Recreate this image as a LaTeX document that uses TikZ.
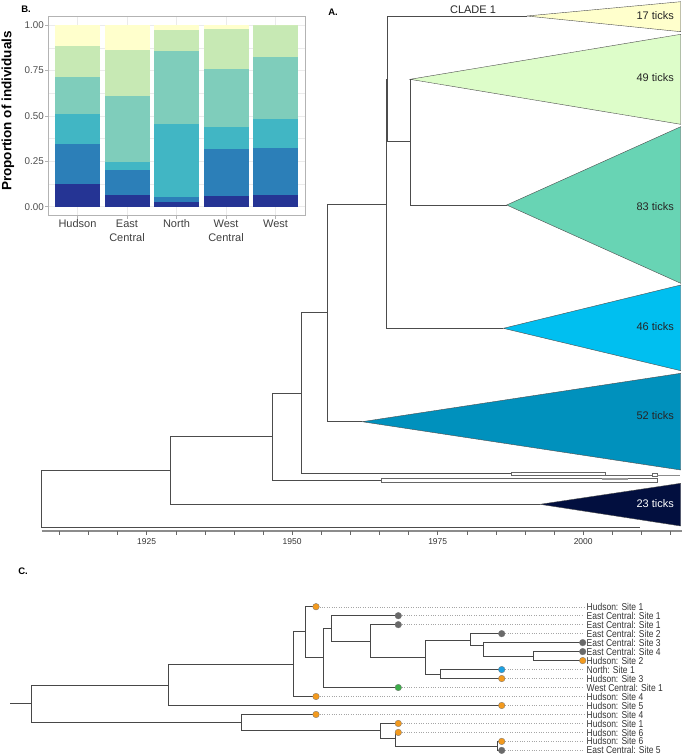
\documentclass[tikz,border=0pt]{standalone}
\usepackage{fontspec}
\setmainfont{Liberation Sans}
\newfontfamily\narrowfont[FakeStretch=0.85]{Liberation Sans}
\newcommand\myfs[1]{\fontsize{#1}{#1}\selectfont}
\definecolor{bA}{HTML}{253494}
\definecolor{bB}{HTML}{2C7FB8}
\definecolor{bC}{HTML}{41B6C4}
\definecolor{bD}{HTML}{7FCDBB}
\definecolor{bE}{HTML}{C7E9B4}
\definecolor{bF}{HTML}{FFFFCC}
\definecolor{tA}{HTML}{FFFFCC}
\definecolor{tB}{HTML}{DDFDC9}
\definecolor{tC}{HTML}{68D4B4}
\definecolor{tD}{HTML}{00BFF0}
\definecolor{tE}{HTML}{0091BD}
\definecolor{tF}{HTML}{020F3F}
\definecolor{cOr}{HTML}{F39A1E}
\definecolor{cGy}{HTML}{6A6A6A}
\definecolor{cGn}{HTML}{3DAE49}
\definecolor{cBl}{HTML}{1DA1E2}
\definecolor{gridc}{HTML}{EBEBEB}
\definecolor{framec}{HTML}{B3B3B3}
\begin{document}
\begin{tikzpicture}[x=1pt,y=-1pt,
  treeA/.style={draw=black!70, line width=0.7pt},
  treeC/.style={draw=black!72, line width=0.8pt},
  tri/.style={draw=black!70, line width=0.4pt},
  clab/.style={font=\myfs{11}, text=black!85, anchor=east, inner sep=0pt},
  panlab/.style={font=\bfseries\myfs{9.5}, inner sep=0pt},
  catlab/.style={font=\myfs{11}, text=black!75, inner sep=0pt},
  ticklab/.style={font=\myfs{9.8}, text=black!70, anchor=east, inner sep=0pt},
  yearlab/.style={font=\myfs{8.5}, text=black!80, inner sep=0pt},
  dot/.style={circle, inner sep=0pt, minimum size=6.6pt, draw=black!55, line width=0.3pt},
  leader/.style={draw=black!35, dotted, line width=0.4pt},
  tiplab/.style={font=\narrowfont\myfs{10}, text=black!80, anchor=west, inner sep=0pt}]
\useasboundingbox (0,0) rectangle (685,755);

% ================= Panel B =================
\node[panlab] (labB) at (26,9.5) {B.};
\begin{scope}[shift={(0,206.7)}, y=181.7pt]
  \foreach \p in {0.125,0.375,0.625,0.875}
    \draw[gridc, line width=0.3pt] (48.3,\p) -- (305,\p);
  \foreach \p in {0,0.25,0.5,0.75,1}
    \draw[gridc, line width=0.6pt] (48.3,\p) -- (305,\p);
  \foreach \cx in {77.5,127,176.5,226,275.5}
    \draw[gridc, line width=0.6pt] (\cx,-0.05) -- (\cx,1.05);
  \foreach \cx/\a/\b/\c/\d/\e in {77.5/0.127/0.345/0.51/0.716/0.884,
      127/0.064/0.202/0.248/0.611/0.862,
      176.5/0.028/0.055/0.455/0.857/0.972,
      226/0.059/0.318/0.439/0.758/0.978,
      275.5/0.065/0.325/0.482/0.826/1.0}{
    \fill[bA] (\cx-22.5,0) rectangle (\cx+22.5,\a);
    \fill[bB] (\cx-22.5,\a) rectangle (\cx+22.5,\b);
    \fill[bC] (\cx-22.5,\b) rectangle (\cx+22.5,\c);
    \fill[bD] (\cx-22.5,\c) rectangle (\cx+22.5,\d);
    \fill[bE] (\cx-22.5,\d) rectangle (\cx+22.5,\e);
    \fill[bF] (\cx-22.5,\e) rectangle (\cx+22.5,1);
  }
  \draw[framec, line width=0.6pt] (48.3,-0.05) rectangle (305,1.05);
  \foreach \p/\t in {0/0.00,0.25/0.25,0.5/0.50,0.75/0.75,1/1.00}{
    \draw[framec, line width=0.5pt] (45.3,\p) -- (48.3,\p);
    \node[ticklab] at (44,\p) {\t};
  }
  \foreach \cx in {77.5,127,176.5,226,275.5}
    \draw[framec, line width=0.5pt] (\cx,-0.05) -- (\cx,-0.067);
\end{scope}
\node[font=\bfseries\myfs{13.5}, rotate=90, inner sep=0pt] (ylab) at (8,111) {Proportion of individuals};
\node[catlab] (c1) at (77.5,223.3) {Hudson};
\node[catlab] (c2a) at (127,223.3) {East};
\node[catlab] (c2b) at (127,237.3) {Central};
\node[catlab] (c3) at (176.5,223.3) {North};
\node[catlab] (c4a) at (226,223.3) {West};
\node[catlab] (c4b) at (226,237.3) {Central};
\node[catlab] (c5) at (275.5,223.3) {West};

% ================= Panel A =================
\node[panlab] (labA) at (333,12) {A.};
% triangles
\filldraw[tri, fill=tA] (526.7,16) -- (680.7,1.7) -- (680.7,31.7) -- cycle;
\filldraw[tri, fill=tB] (410,79.3) -- (680.7,34.3) -- (680.7,124.3) -- cycle;
\filldraw[tri, fill=tC] (506.7,205) -- (680.7,126.7) -- (680.7,283.3) -- cycle;
\filldraw[tri, fill=tD] (503.3,328.3) -- (680.7,285) -- (680.7,370.7) -- cycle;
\filldraw[tri, fill=tE] (362,421.7) -- (680.7,373.3) -- (680.7,470) -- cycle;
\filldraw[tri, fill=tF] (540,504.3) -- (680.7,483.3) -- (680.7,526) -- cycle;
\node[clab] (t17) at (674,15.5) {17 ticks};
\node[clab] (t49) at (674,78) {49 ticks};
\node[clab] (t83) at (674,206.7) {83 ticks};
\node[clab] (t46) at (674,326.7) {46 ticks};
\node[clab] (t52) at (674,416) {52 ticks};
\node[clab, text=white] (t23) at (674,504) {23 ticks};
\node[font=\myfs{11}, text=black!85, inner sep=0pt] (clade) at (473,9.5) {CLADE 1};
% tree
\draw[treeA] (170.7,470) -- (41.7,470) -- (41.7,527.3) -- (640,527.3);
\draw[treeA] (272.7,436.7) -- (170.7,436.7) -- (170.7,504.3) -- (540,504.3);
\draw[treeA] (301.7,393.3) -- (272.7,393.3) -- (272.7,480) -- (380.7,480);
\draw[treeA] (327.3,312.7) -- (301.7,312.7) -- (301.7,473.3) -- (510.7,473.3);
\draw[treeA] (386,204) -- (327.3,204) -- (327.3,421.7) -- (362,421.7);
\draw[treeA] (386,79.3) -- (386,328.3) -- (503.3,328.3);
\draw[treeA] (526.7,16) -- (387.7,16) -- (387.7,141.7) -- (410,141.7);
\draw[treeA] (410,79.3) -- (410,205) -- (506.7,205);
% thin collapsed clades
\draw[black!60, line width=0.4pt] (510.7,471.8) rectangle (605,475.3);
\draw[black!60, line width=0.4pt] (605,475.3) -- (651.7,475.3);
\draw[black!60, line width=0.4pt] (651.7,473.3) rectangle (656.7,476.3);
\draw[black!45, line width=0.4pt] (656.7,475.3) -- (680,475.3);
\draw[black!60, line width=0.4pt] (380.7,478) rectangle (656.7,481.7);
\fill[black!40] (601.7,477.5) rectangle (628.3,479.5);
% axis
\draw[black!45, line width=1.3pt] (41.7,531) -- (682,531);
\foreach \yr in {1910,1915,...,2015}
  \draw[black!60, line width=0.5pt] ({146.7+5.82*(\yr-1925)},531) -- ({146.7+5.82*(\yr-1925)},534.5);
\foreach \yr in {1925,1950,1975,2000}
  \node[yearlab] at ({146.7+5.82*(\yr-1925)},542) {\yr};

% ================= Panel C =================
\node[panlab] (labC) at (23,571.5) {C.};
\draw[treeC] (10,703.3) -- (31.7,703.3);
\draw[treeC] (168,685) -- (31.7,685) -- (31.7,722.3) -- (241,722.3);
\draw[treeC] (293.7,664) -- (168,664) -- (168,705.5) -- (501.7,705.5);
\draw[treeC] (305.7,631.7) -- (293.7,631.7) -- (293.7,696.5) -- (316,696.5);
\draw[treeC] (316,606.7) -- (305.7,606.7) -- (305.7,657.7) -- (323.3,657.7);
\draw[treeC] (331.3,628.3) -- (323.3,628.3) -- (323.3,687.5) -- (398.3,687.5);
\draw[treeC] (398.3,615.7) -- (331.3,615.7) -- (331.3,641) -- (370,641);
\draw[treeC] (398.3,624.7) -- (370,624.7) -- (370,657.7) -- (425,657.7);
\draw[treeC] (470,640) -- (425,640) -- (425,674) -- (440,674);
\draw[treeC] (501.7,633.6) -- (470,633.6) -- (470,645.5) -- (483.3,645.5);
\draw[treeC] (582.7,642.6) -- (483.3,642.6) -- (483.3,656.1) -- (533.3,656.1);
\draw[treeC] (582.7,651.6) -- (533.3,651.6) -- (533.3,660.6) -- (582.7,660.6);
\draw[treeC] (501.7,669.6) -- (440,669.6) -- (440,678.5) -- (501.7,678.5);
\draw[treeC] (316,714.5) -- (241,714.5) -- (241,730.7) -- (380,730.7);
\draw[treeC] (398.3,723.4) -- (380,723.4) -- (380,738.3) -- (395,738.3);
\draw[treeC] (398.3,732.4) -- (395,732.4) -- (395,745.9) -- (497.3,745.9);
\draw[treeC] (501.7,741.4) -- (497.3,741.4) -- (497.3,750.4) -- (501.7,750.4);
\foreach \i/\dx/\col/\lab in {
   0/316/cOr/{Hudson: Site 1},
   1/398.3/cGy/{East Central: Site 1},
   2/398.3/cGy/{East Central: Site 1},
   3/501.7/cGy/{East Central: Site 2},
   4/582.7/cGy/{East Central: Site 3},
   5/582.7/cGy/{East Central: Site 4},
   6/582.7/cOr/{Hudson: Site 2},
   7/501.7/cBl/{North: Site 1},
   8/501.7/cOr/{Hudson: Site 3},
   9/398.3/cGn/{West Central: Site 1},
   10/316/cOr/{Hudson: Site 4},
   11/501.7/cOr/{Hudson: Site 5},
   12/316/cOr/{Hudson: Site 4},
   13/398.3/cOr/{Hudson: Site 1},
   14/398.3/cOr/{Hudson: Site 6},
   15/501.7/cOr/{Hudson: Site 6},
   16/501.7/cGy/{East Central: Site 5}}{
  \pgfmathsetmacro\yy{606.7+8.98*\i}
  \ifdim\dx pt<580pt
    \draw[leader] (\dx+3.5,\yy) -- (584,\yy);
  \fi
  \node[dot, fill=\col] (d\i) at (\dx,\yy) {};
  \node[tiplab] (l\i) at (586.5,\yy) {\lab};
}
\end{tikzpicture}
\end{document}
